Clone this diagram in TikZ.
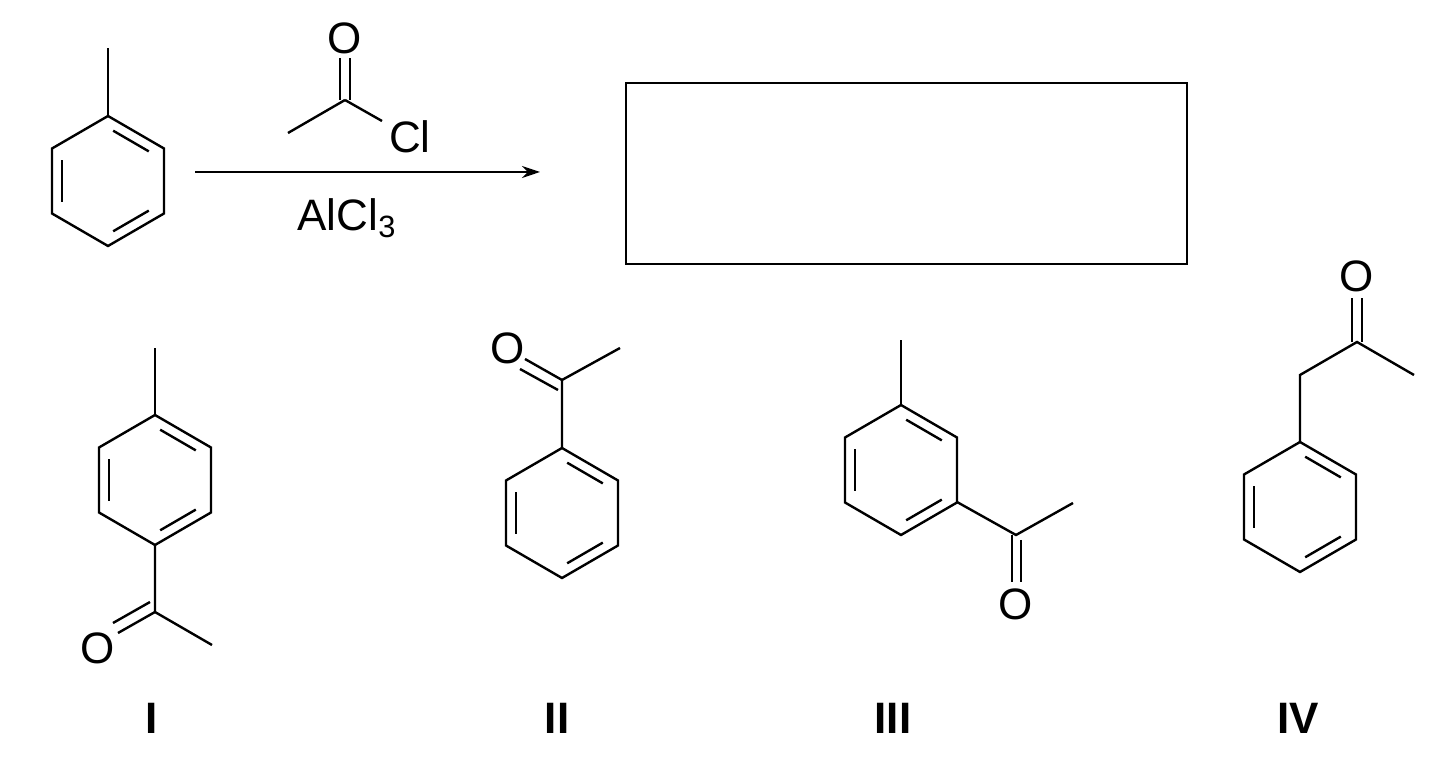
\documentclass[tikz,border=0pt]{standalone}
\usepackage{fontspec}
\setmainfont{Liberation Sans}
\usetikzlibrary{arrows.meta}
\begin{document}
\begin{tikzpicture}[x=0.5pt,y=-0.5pt,line width=1.2pt,
  atom/.style={font=\fontsize{22}{24}\selectfont,inner sep=0pt},
  lab/.style={font=\fontsize{22}{24}\selectfont\bfseries,inner sep=0pt},
  inb/.style={shorten >=3pt,shorten <=3pt}]
\useasboundingbox (0,0) rectangle (1440,763);
\newcommand{\benz}[2]{%
 \begin{scope}[shift={(#1,#2)}]
 \draw (0,-65)--(56,-32.5)--(56,32.5)--(0,65)--(-56,32.5)--(-56,-32.5)--cycle;
 \draw[inb] (-46,-26.6)--(-46,26.6);
 \draw[inb] (0,-53.3)--(46,-26.6);
 \draw[inb] (46,26.6)--(0,53.3);
 \end{scope}}
% toluene
\benz{108}{181}
\draw (108,116)--(108,48);
\coordinate (as) at (195,172);
\coordinate (ae) at (540,172);
\draw[-{Stealth[length=9pt,width=6pt]}] (as)--(ae);
% acetyl chloride
\coordinate (c1) at (345,100);
\node[atom] (o1) at (345,38) {O};
\node[atom] (cl) at (410,137) {Cl};
\draw (c1)--(288,133);
\draw (c1)--(382,121);
\draw (340,100)--(340,58);
\draw (350,100)--(350,58);
\node[atom] (al) at (347,218) {AlCl\textsubscript{3}};
% box
\draw (626,83) rectangle (1187,264);
% I
\benz{155}{480}
\draw (155,415)--(155,348);
\draw (155,545)--(155,612)--(212,645);
\draw (155,612)--(118,633);
\draw (150,602)--(113,623);
\node[atom] at (98,648) {O};
% II
\benz{562}{513}
\draw (562,448)--(562,380)--(620,348);
\draw (562,380)--(525,359);
\draw (558,390)--(520,369);
\node[atom] at (508,348) {O};
% III
\benz{901}{470}
\draw (901,405)--(901,340);
\draw (957,502)--(1016,535)--(1073,503);
\draw (1012,535)--(1012,582);
\draw (1021,540)--(1021,582);
\node[atom] at (1016,604) {O};
% IV
\benz{1300}{507}
\draw (1300,442)--(1300,375)--(1357,342)--(1414,375);
\draw (1352,342)--(1352,298);
\draw (1362,342)--(1362,298);
\node[atom] at (1357,276) {O};
% labels
\node[lab] at (152,718) {I};
\node[lab] at (557,718) {II};
\node[lab] at (893,718) {III};
\node[lab] at (1298,718) {IV};
\end{tikzpicture}
\end{document}
